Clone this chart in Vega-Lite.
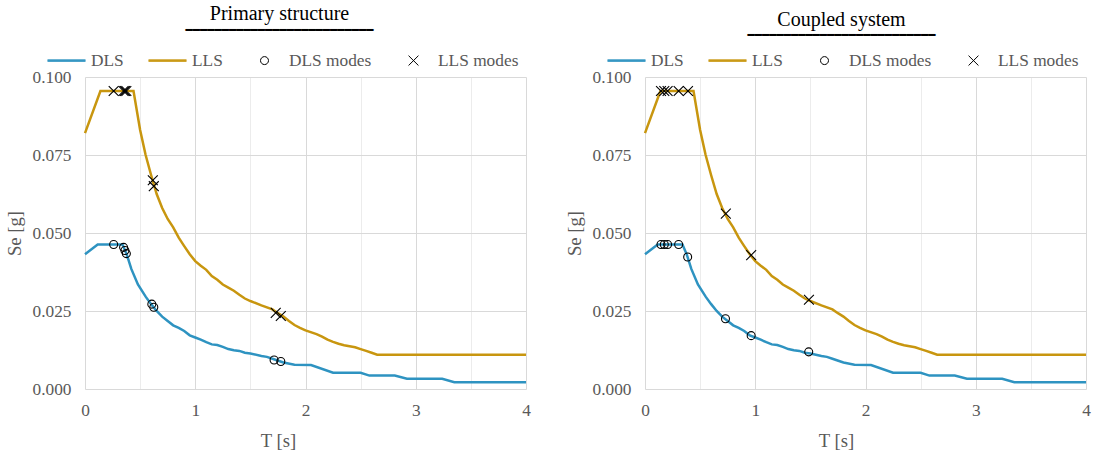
{
  "$schema": "https://vega.github.io/schema/vega-lite/v6.json",
  "padding": {"left": 5, "top": 4, "right": 5, "bottom": 2},
  "background": "white",
  "config": {
    "view": {"stroke": null},
    "axis": {
      "labelFont": "Liberation Serif", "labelFontSize": 17.33, "labelColor": "#595959",
      "titleFont": "Liberation Serif", "titleFontSize": 18.67, "titleColor": "#595959", "titleFontWeight": "normal",
      "domain": false, "ticks": false, "gridColor": "#d9d9d9", "gridWidth": 1, "labelFlush": false
    },
    "legend": {
      "orient": "none", "direction": "horizontal", "legendX": -38, "legendY": -36,
      "labelFont": "Liberation Serif", "labelFontSize": 17.33, "labelColor": "#595959",
      "symbolSize": 1444, "symbolStrokeWidth": 1, "labelOffset": 5, "columnPadding": 22, "padding": 0, "title": null
    }
  },
  "datasets": {
    "spectrum": [
      {"T": 0, "Se": 0.0820, "series": "LLS"},
      {"T": 0.14, "Se": 0.0955, "series": "LLS"},
      {"T": 0.44, "Se": 0.0955, "series": "LLS"},
      {"T": 0.5, "Se": 0.0830, "series": "LLS"},
      {"T": 0.55, "Se": 0.0750, "series": "LLS"},
      {"T": 0.6, "Se": 0.0685, "series": "LLS"},
      {"T": 0.65, "Se": 0.0625, "series": "LLS"},
      {"T": 0.7, "Se": 0.0580, "series": "LLS"},
      {"T": 0.75, "Se": 0.0545, "series": "LLS"},
      {"T": 0.8, "Se": 0.0518, "series": "LLS"},
      {"T": 0.85, "Se": 0.0485, "series": "LLS"},
      {"T": 0.9, "Se": 0.0458, "series": "LLS"},
      {"T": 0.95, "Se": 0.0432, "series": "LLS"},
      {"T": 1.0, "Se": 0.0410, "series": "LLS"},
      {"T": 1.05, "Se": 0.0395, "series": "LLS"},
      {"T": 1.1, "Se": 0.0382, "series": "LLS"},
      {"T": 1.15, "Se": 0.0362, "series": "LLS"},
      {"T": 1.2, "Se": 0.0350, "series": "LLS"},
      {"T": 1.25, "Se": 0.0335, "series": "LLS"},
      {"T": 1.3, "Se": 0.0325, "series": "LLS"},
      {"T": 1.35, "Se": 0.0315, "series": "LLS"},
      {"T": 1.4, "Se": 0.0302, "series": "LLS"},
      {"T": 1.45, "Se": 0.0290, "series": "LLS"},
      {"T": 1.5, "Se": 0.0282, "series": "LLS"},
      {"T": 1.6, "Se": 0.0268, "series": "LLS"},
      {"T": 1.7, "Se": 0.0255, "series": "LLS"},
      {"T": 1.75, "Se": 0.0243, "series": "LLS"},
      {"T": 1.8, "Se": 0.0232, "series": "LLS"},
      {"T": 1.85, "Se": 0.0218, "series": "LLS"},
      {"T": 1.9, "Se": 0.0205, "series": "LLS"},
      {"T": 1.95, "Se": 0.0196, "series": "LLS"},
      {"T": 2.0, "Se": 0.0188, "series": "LLS"},
      {"T": 2.1, "Se": 0.0176, "series": "LLS"},
      {"T": 2.15, "Se": 0.0168, "series": "LLS"},
      {"T": 2.2, "Se": 0.0158, "series": "LLS"},
      {"T": 2.25, "Se": 0.0151, "series": "LLS"},
      {"T": 2.3, "Se": 0.0145, "series": "LLS"},
      {"T": 2.35, "Se": 0.0140, "series": "LLS"},
      {"T": 2.45, "Se": 0.0134, "series": "LLS"},
      {"T": 2.5, "Se": 0.0128, "series": "LLS"},
      {"T": 2.55, "Se": 0.0122, "series": "LLS"},
      {"T": 2.6, "Se": 0.0116, "series": "LLS"},
      {"T": 2.65, "Se": 0.0110, "series": "LLS"},
      {"T": 4.0, "Se": 0.0110, "series": "LLS"},
      {"T": 0, "Se": 0.0432, "series": "DLS"},
      {"T": 0.115, "Se": 0.0463, "series": "DLS"},
      {"T": 0.34, "Se": 0.0463, "series": "DLS"},
      {"T": 0.38, "Se": 0.0430, "series": "DLS"},
      {"T": 0.42, "Se": 0.0385, "series": "DLS"},
      {"T": 0.48, "Se": 0.0335, "series": "DLS"},
      {"T": 0.55, "Se": 0.0296, "series": "DLS"},
      {"T": 0.6, "Se": 0.0272, "series": "DLS"},
      {"T": 0.65, "Se": 0.0250, "series": "DLS"},
      {"T": 0.7, "Se": 0.0232, "series": "DLS"},
      {"T": 0.75, "Se": 0.0218, "series": "DLS"},
      {"T": 0.8, "Se": 0.0204, "series": "DLS"},
      {"T": 0.85, "Se": 0.0196, "series": "DLS"},
      {"T": 0.9, "Se": 0.0186, "series": "DLS"},
      {"T": 0.95, "Se": 0.0172, "series": "DLS"},
      {"T": 1.0, "Se": 0.0165, "series": "DLS"},
      {"T": 1.05, "Se": 0.0158, "series": "DLS"},
      {"T": 1.1, "Se": 0.0150, "series": "DLS"},
      {"T": 1.15, "Se": 0.0143, "series": "DLS"},
      {"T": 1.2, "Se": 0.0141, "series": "DLS"},
      {"T": 1.25, "Se": 0.0135, "series": "DLS"},
      {"T": 1.3, "Se": 0.0128, "series": "DLS"},
      {"T": 1.35, "Se": 0.0124, "series": "DLS"},
      {"T": 1.4, "Se": 0.0122, "series": "DLS"},
      {"T": 1.45, "Se": 0.0116, "series": "DLS"},
      {"T": 1.5, "Se": 0.0114, "series": "DLS"},
      {"T": 1.6, "Se": 0.0106, "series": "DLS"},
      {"T": 1.65, "Se": 0.0103, "series": "DLS"},
      {"T": 1.7, "Se": 0.0097, "series": "DLS"},
      {"T": 1.8, "Se": 0.0085, "series": "DLS"},
      {"T": 1.9, "Se": 0.0078, "series": "DLS"},
      {"T": 2.05, "Se": 0.0077, "series": "DLS"},
      {"T": 2.25, "Se": 0.0052, "series": "DLS"},
      {"T": 2.5, "Se": 0.0052, "series": "DLS"},
      {"T": 2.58, "Se": 0.0043, "series": "DLS"},
      {"T": 2.81, "Se": 0.0043, "series": "DLS"},
      {"T": 2.92, "Se": 0.0033, "series": "DLS"},
      {"T": 3.24, "Se": 0.0033, "series": "DLS"},
      {"T": 3.35, "Se": 0.0022, "series": "DLS"},
      {"T": 4.0, "Se": 0.0022, "series": "DLS"}
    ],
    "modesPrimary": [
      {"T": 0.26, "Se": 0.0463, "series": "DLS modes"},
      {"T": 0.35, "Se": 0.0454, "series": "DLS modes"},
      {"T": 0.362, "Se": 0.0444, "series": "DLS modes"},
      {"T": 0.375, "Se": 0.0434, "series": "DLS modes"},
      {"T": 0.606, "Se": 0.0272, "series": "DLS modes"},
      {"T": 0.624, "Se": 0.0262, "series": "DLS modes"},
      {"T": 1.715, "Se": 0.0093, "series": "DLS modes"},
      {"T": 1.776, "Se": 0.0088, "series": "DLS modes"},
      {"T": 0.26, "Se": 0.0955, "series": "LLS modes"},
      {"T": 0.35, "Se": 0.0955, "series": "LLS modes"},
      {"T": 0.362, "Se": 0.0955, "series": "LLS modes"},
      {"T": 0.375, "Se": 0.0955, "series": "LLS modes"},
      {"T": 0.615, "Se": 0.0669, "series": "LLS modes"},
      {"T": 0.624, "Se": 0.0650, "series": "LLS modes"},
      {"T": 1.73, "Se": 0.0244, "series": "LLS modes"},
      {"T": 1.776, "Se": 0.0234, "series": "LLS modes"}
    ],
    "modesCoupled": [
      {"T": 0.145, "Se": 0.0463, "series": "DLS modes"},
      {"T": 0.175, "Se": 0.0463, "series": "DLS modes"},
      {"T": 0.205, "Se": 0.0463, "series": "DLS modes"},
      {"T": 0.305, "Se": 0.0463, "series": "DLS modes"},
      {"T": 0.387, "Se": 0.0423, "series": "DLS modes"},
      {"T": 0.73, "Se": 0.0225, "series": "DLS modes"},
      {"T": 0.963, "Se": 0.0171, "series": "DLS modes"},
      {"T": 1.485, "Se": 0.0119, "series": "DLS modes"},
      {"T": 0.145, "Se": 0.0955, "series": "LLS modes"},
      {"T": 0.175, "Se": 0.0955, "series": "LLS modes"},
      {"T": 0.205, "Se": 0.0955, "series": "LLS modes"},
      {"T": 0.305, "Se": 0.0955, "series": "LLS modes"},
      {"T": 0.39, "Se": 0.0955, "series": "LLS modes"},
      {"T": 0.733, "Se": 0.0562, "series": "LLS modes"},
      {"T": 0.963, "Se": 0.0429, "series": "LLS modes"},
      {"T": 1.487, "Se": 0.0286, "series": "LLS modes"}
    ]
  },
  "bounds": "flush",
  "spacing": 119,
  "resolve": {
    "scale": {"color": "independent", "shape": "independent"},
    "legend": {"color": "independent", "shape": "independent"}
  },
  "hconcat": [
    {
      "width": 441, "height": 312,
      "title": {
        "text": "Primary structure",
        "subtitle": "━━━━━━━━━━━━━━━━━━━━━━━━━━",
        "font": "Liberation Serif", "fontSize": 20, "fontWeight": "normal", "color": "#000000",
        "subtitleFont": "DejaVu Sans", "subtitleFontSize": 12, "subtitleColor": "#000000", "subtitlePadding": 1,
        "anchor": "middle", "frame": "group", "dx": -26, "offset": 5
      },
      "layer": [
        {
          "data": {"name": "spectrum"},
          "mark": {"type": "line", "strokeWidth": 2.5},
          "encoding": {
            "x": {"field": "T", "type": "quantitative", "scale": {"domain": [0, 4], "nice": false},
                  "axis": {"title": "T [s]", "values": [0, 0.5, 1, 1.5, 2, 2.5, 3, 3.5, 4], "format": ".0f", "labelExpr": "datum.value % 1 === 0 ? datum.label : ''", "labelPadding": 12, "titlePadding": 13, "titleX": 193,
                           "gridColor": {"condition": {"test": "datum.value % 1 === 0", "value": "#d9d9d9"}, "value": "#ececec"}}},
            "y": {"field": "Se", "type": "quantitative", "scale": {"domain": [0, 0.1], "nice": false},
                  "axis": {"title": "Se [g]", "values": [0, 0.025, 0.05, 0.075, 0.1], "format": ".3f", "labelPadding": 14, "titlePadding": 8}},
            "color": {"field": "series", "type": "nominal",
                      "scale": {"domain": ["DLS", "LLS", "DLS modes", "LLS modes"], "range": ["#2E93C1", "#C8960F", "#000000", "#000000"]}}
          }
        },
        {
          "data": {"name": "modesPrimary"},
          "mark": {"type": "point", "filled": false, "size": 1444, "strokeWidth": 1.1, "opacity": 1},
          "encoding": {
            "x": {"field": "T", "type": "quantitative"},
            "y": {"field": "Se", "type": "quantitative"},
            "color": {"field": "series", "type": "nominal",
                      "scale": {"domain": ["DLS", "LLS", "DLS modes", "LLS modes"], "range": ["#2E93C1", "#C8960F", "#000000", "#000000"]}},
            "shape": {"field": "series", "type": "nominal",
                      "scale": {"domain": ["DLS", "LLS", "DLS modes", "LLS modes"],
                                "range": ["M-1,0H1M-1,0.04H1M-1,-0.04H1", "M-1,0H1M-1,0.04H1M-1,-0.04H1", "M0.21,0A0.21,0.21,0,1,1,-0.21,0A0.21,0.21,0,1,1,0.21,0Z", "M-0.26,-0.26L0.26,0.26M-0.26,0.26L0.26,-0.26"]}}
          }
        }
      ]
    },
    {
      "width": 441, "height": 312,
      "title": {
        "text": "Coupled system",
        "subtitle": "━━━━━━━━━━━━━━━━━━━━━━━━━━",
        "font": "Liberation Serif", "fontSize": 20, "fontWeight": "normal", "color": "#000000",
        "subtitleFont": "DejaVu Sans", "subtitleFontSize": 12, "subtitleColor": "#000000", "subtitlePadding": 0,
        "anchor": "middle", "frame": "group", "dx": -24, "offset": 0
      },
      "layer": [
        {
          "data": {"name": "spectrum"},
          "mark": {"type": "line", "strokeWidth": 2.5},
          "encoding": {
            "x": {"field": "T", "type": "quantitative", "scale": {"domain": [0, 4], "nice": false},
                  "axis": {"title": "T [s]", "values": [0, 0.5, 1, 1.5, 2, 2.5, 3, 3.5, 4], "format": ".0f", "labelExpr": "datum.value % 1 === 0 ? datum.label : ''", "labelPadding": 12, "titlePadding": 13, "titleX": 191,
                           "gridColor": {"condition": {"test": "datum.value % 1 === 0", "value": "#d9d9d9"}, "value": "#ececec"}}},
            "y": {"field": "Se", "type": "quantitative", "scale": {"domain": [0, 0.1], "nice": false},
                  "axis": {"title": "Se [g]", "values": [0, 0.025, 0.05, 0.075, 0.1], "format": ".3f", "labelPadding": 14, "titlePadding": 8}},
            "color": {"field": "series", "type": "nominal",
                      "scale": {"domain": ["DLS", "LLS", "DLS modes", "LLS modes"], "range": ["#2E93C1", "#C8960F", "#000000", "#000000"]}}
          }
        },
        {
          "data": {"name": "modesCoupled"},
          "mark": {"type": "point", "filled": false, "size": 1444, "strokeWidth": 1.1, "opacity": 1},
          "encoding": {
            "x": {"field": "T", "type": "quantitative"},
            "y": {"field": "Se", "type": "quantitative"},
            "color": {"field": "series", "type": "nominal",
                      "scale": {"domain": ["DLS", "LLS", "DLS modes", "LLS modes"], "range": ["#2E93C1", "#C8960F", "#000000", "#000000"]}},
            "shape": {"field": "series", "type": "nominal",
                      "scale": {"domain": ["DLS", "LLS", "DLS modes", "LLS modes"],
                                "range": ["M-1,0H1M-1,0.04H1M-1,-0.04H1", "M-1,0H1M-1,0.04H1M-1,-0.04H1", "M0.21,0A0.21,0.21,0,1,1,-0.21,0A0.21,0.21,0,1,1,0.21,0Z", "M-0.26,-0.26L0.26,0.26M-0.26,0.26L0.26,-0.26"]}}
          }
        }
      ]
    }
  ]
}
